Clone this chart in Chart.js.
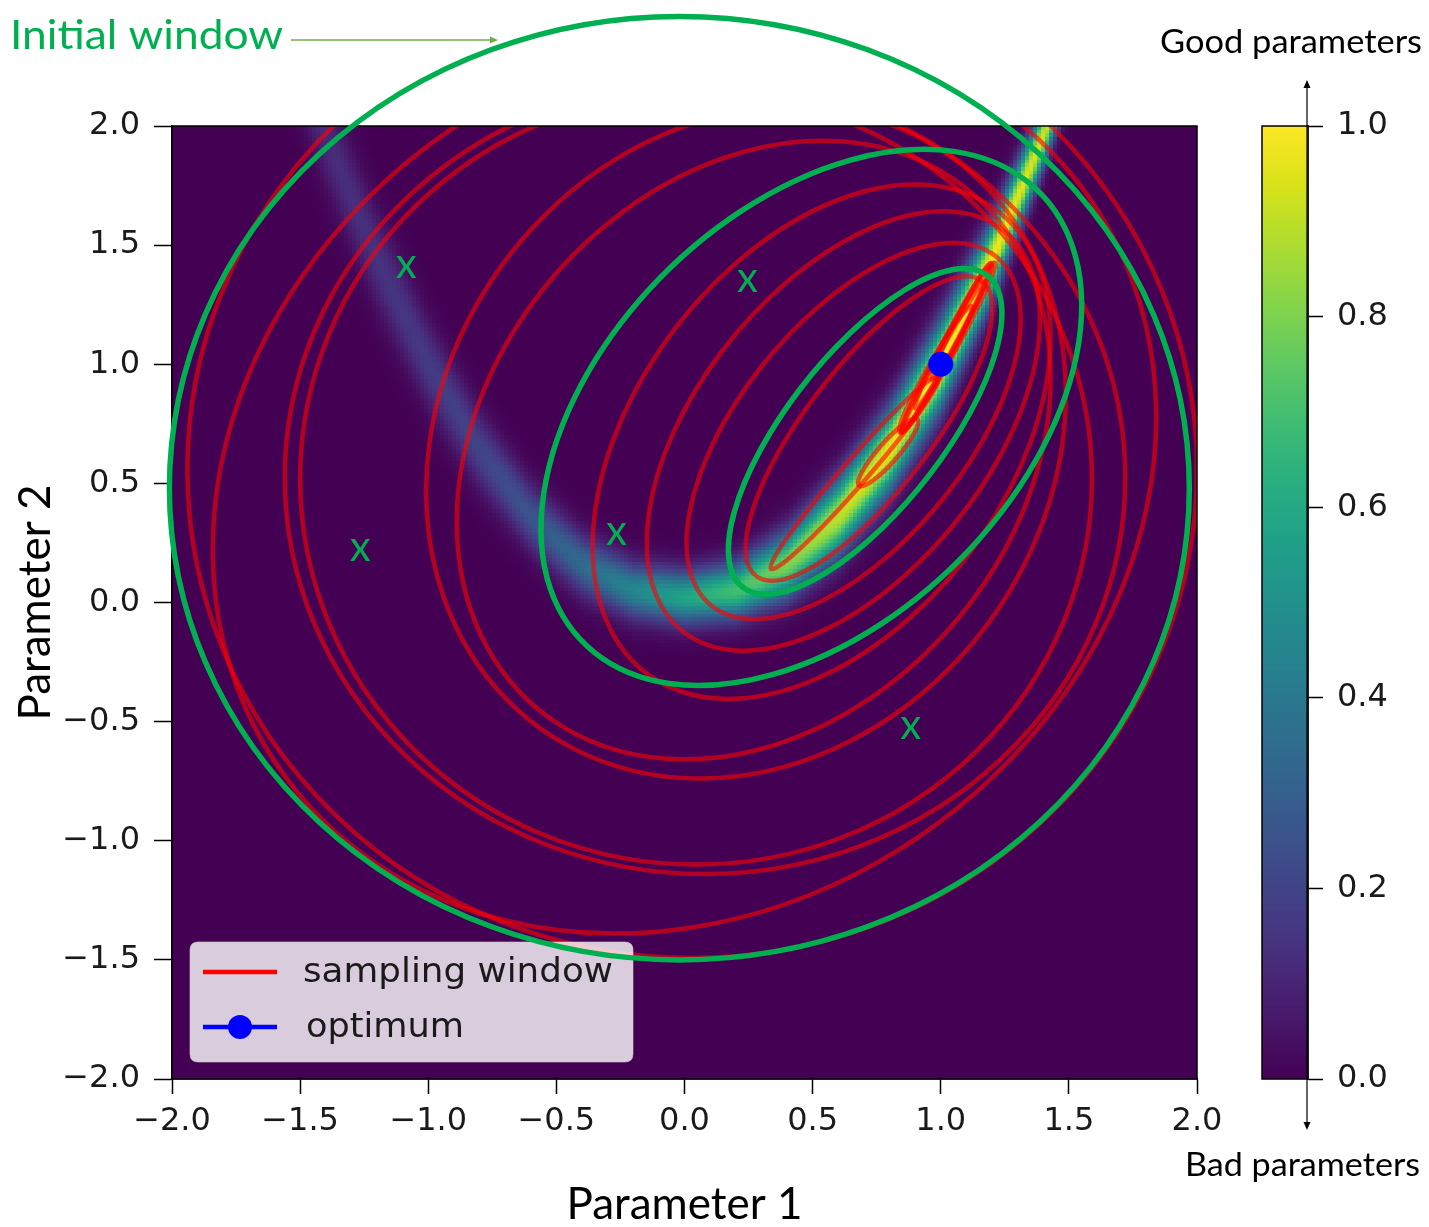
<!DOCTYPE html>
<html><head><meta charset="utf-8">
<script src="https://cdn.jsdelivr.net/npm/chart.js@4.4.1/dist/chart.umd.min.js"></script>
<style>
html,body{margin:0;padding:0;background:#fff;}
#wrap{position:relative;width:1429px;height:1227px;overflow:hidden;background:#fff;}
#main{position:absolute;left:0;top:0;}
#cbar{position:absolute;left:1140px;top:0;}
</style></head><body>
<div id="wrap"><canvas id="main" width="1429" height="1227"></canvas><canvas id="cbar" width="289" height="1227"></canvas></div>
<script>
// ---------- data ----------
const xTicks = [-2, -1.5, -1, -0.5, 0, 0.5, 1, 1.5, 2];
const yTicks = [-2, -1.5, -1, -0.5, 0, 0.5, 1, 1.5, 2];
const colorbarTicks = [0, 0.2, 0.4, 0.6, 0.8, 1.0];

// score ridge (the bright band): position, peak score and half-width per column
const ridgeX     = [-1.6, -1.4, -1.2, -1.0, -0.8, -0.6, -0.4, -0.2, 0.0, 0.2, 0.4, 0.6, 0.8, 1.0, 1.2, 1.4, 1.6];
const ridgeY     = [2.56, 1.96, 1.44, 1.00, 0.64, 0.36, 0.16, 0.05, 0.02, 0.05, 0.16, 0.36, 0.64, 1.00, 1.44, 1.96, 2.56];
const ridgePeak  = [0.10, 0.12, 0.14, 0.17, 0.20, 0.26, 0.34, 0.45, 0.58, 0.70, 0.80, 0.90, 0.97, 1.00, 0.98, 0.93, 0.85];
const ridgeWidth = [0.20, 0.20, 0.19, 0.17, 0.15, 0.13, 0.12, 0.11, 0.105, 0.11, 0.13, 0.15, 0.16, 0.17, 0.15, 0.12, 0.11];

// sampling windows (red ellipses): centre, semi-axes, rotation (deg)
const windowCx    = [0.03, 0.00, 0.08, 0.045, 0.24, 0.27, 0.535, 0.62, 0.66, 0.72, 0.665, 0.795, 1.03, 1.05, 0.98, 1.08, 1.01];
const windowCy    = [0.558, 0.50, 0.525, 0.52, 0.67, 0.64, 0.675, 0.72, 0.72, 0.73, 0.545, 0.63, 1.07, 1.12, 0.98, 1.18, 1.03];
const windowA     = [1.97, 2.00, 1.64, 1.545, 1.45, 1.38, 1.19, 1.05, 0.92, 0.76, 0.52, 0.18, 0.40, 0.34, 0.30, 0.27, 0.36];
const windowB     = [2.05, 1.72, 1.665, 1.62, 1.20, 1.06, 0.74, 0.58, 0.45, 0.25, 0.05, 0.04, 0.03, 0.025, 0.03, 0.02, 0.02];
const windowAngle = [0, 50, 0, 0, 65, 58, 57.5, 55, 54, 55, 51, 51, 63, 64, 62, 65, 63];

// highlighted windows (green): initial window and two later ones
const highlightCx    = [-0.02, 0.495, 0.705];
const highlightCy    = [0.48, 0.777, 0.718];
const highlightA     = [1.99, 1.30, 0.81];
const highlightB     = [1.98, 0.83, 0.31];
const highlightAngle = [0, 49.4, 54.5];

// sampled points (green x)
const sampleX = [-1.086, 0.246, -0.266, -1.266, 0.883];
const sampleY = [1.412, 1.353, 0.290, 0.223, -0.525];

// optimum
const optimumX = [1.0];
const optimumY = [1.0];

const legendLabels = ['sampling window', 'optimum'];

// ---------- styles ----------
const VIRIDIS = ['#440154','#48186a','#472d7b','#424086','#3b528b','#33638d','#2c728e','#26828e','#21918c','#1fa088','#28ae80','#3fbc73','#5ec962','#84d44b','#addc30','#d8e219','#fde725'];
const VIR_RGB = VIRIDIS.map(h => [parseInt(h.slice(1,3),16), parseInt(h.slice(3,5),16), parseInt(h.slice(5,7),16)]);
function viridis(v) {
  v = Math.max(0, Math.min(1, v));
  const f = v * (VIR_RGB.length - 1);
  const i = Math.min(VIR_RGB.length - 2, Math.floor(f));
  const t = f - i;
  const a = VIR_RGB[i], b = VIR_RGB[i + 1];
  return [a[0] + (b[0]-a[0])*t, a[1] + (b[1]-a[1])*t, a[2] + (b[2]-a[2])*t];
}
const GREEN = '#00b050';
const RED = 'rgba(255,0,0,0.6)';
const TICK_FONT = {family: 'DejaVu Sans', size: 32};
const fmt = v => (v < 0 ? '\u2212' : '') + Math.abs(v).toFixed(1);

function ridgeAt(x, arr) {
  if (x <= ridgeX[0]) return arr[0];
  for (let i = 0; i < ridgeX.length - 1; i++) {
    if (x <= ridgeX[i+1]) {
      const t = (x - ridgeX[i]) / (ridgeX[i+1] - ridgeX[i]);
      return arr[i] + (arr[i+1] - arr[i]) * t;
    }
  }
  return arr[arr.length - 1];
}

let heatCanvas = null;
function buildHeat(xs, ys) {
  const N = 256;
  const c = document.createElement('canvas');
  c.width = N; c.height = N;
  const g = c.getContext('2d');
  const img = g.createImageData(N, N);
  const x0 = xs.min, x1 = xs.max, y0 = ys.min, y1 = ys.max;
  for (let i = 0; i < N; i++) {
    const xc = x0 + (i + 0.5) * (x1 - x0) / N;
    const ry = ridgeAt(xc, ridgeY), rp = ridgeAt(xc, ridgePeak), rw = ridgeAt(xc, ridgeWidth);
    for (let j = 0; j < N; j++) {
      const yc = y1 - (j + 0.5) * (y1 - y0) / N;
      const d = (yc - ry) / rw;
      const v = rp * Math.exp(-d * d);
      const col = viridis(v);
      const k = (j * N + i) * 4;
      img.data[k] = col[0]; img.data[k+1] = col[1]; img.data[k+2] = col[2]; img.data[k+3] = 255;
    }
  }
  g.putImageData(img, 0, 0);
  return c;
}

function ellipsePath(ctx, xs, ys, cx, cy, a, b, angDeg) {
  const px0 = xs.getPixelForValue(0), py0 = ys.getPixelForValue(0);
  const sx = xs.getPixelForValue(1) - px0, sy = ys.getPixelForValue(1) - py0;
  ctx.save();
  ctx.translate(px0, py0);
  ctx.scale(sx, sy);
  ctx.beginPath();
  ctx.ellipse(cx, cy, a, b, angDeg * Math.PI / 180, 0, Math.PI * 2);
  ctx.restore();
}

function fitText(ctx, text, x, y, width, font, color, align) {
  ctx.save();
  ctx.font = font;
  ctx.fillStyle = color;
  ctx.textBaseline = 'middle';
  const w = ctx.measureText(text).width;
  const s = width / w;
  let left = x;
  if (align === 'center') left = x - width / 2;
  ctx.translate(left, y);
  ctx.scale(s, 1);
  ctx.textAlign = 'left';
  ctx.fillText(text, 0, 0);
  ctx.restore();
}

function arrowHead(ctx, x, y, dx, dy, len, half, color) {
  const n = Math.hypot(dx, dy); const ux = dx / n, uy = dy / n;
  ctx.save();
  ctx.fillStyle = color;
  ctx.beginPath();
  ctx.moveTo(x, y);
  ctx.lineTo(x - ux * len - uy * half, y - uy * len + ux * half);
  ctx.lineTo(x - ux * len + uy * half, y - uy * len - ux * half);
  ctx.closePath();
  ctx.fill();
  ctx.restore();
}

const heatPlugin = {
  id: 'heatAndWindows',
  beforeDatasetsDraw(chart) {
    const {ctx, chartArea: ca, scales: {x, y}} = chart;
    if (!heatCanvas) heatCanvas = buildHeat(x, y);
    ctx.save();
    ctx.beginPath();
    ctx.rect(ca.left, ca.top, ca.right - ca.left, ca.bottom - ca.top);
    ctx.clip();
    ctx.imageSmoothingEnabled = false;
    const L = x.getPixelForValue(x.min), R = x.getPixelForValue(x.max);
    const T = y.getPixelForValue(y.max), B = y.getPixelForValue(y.min);
    ctx.drawImage(heatCanvas, L, T, R - L, B - T);
    // red sampling windows
    ctx.strokeStyle = RED;
    ctx.lineWidth = 4.5;
    for (let i = 0; i < windowCx.length; i++) {
      ellipsePath(ctx, x, y, windowCx[i], windowCy[i], windowA[i], windowB[i], windowAngle[i]);
      ctx.stroke();
    }
    ctx.restore();
  },
  afterDatasetsDraw(chart) {
    const {ctx, chartArea: ca, scales: {x, y}} = chart;
    // frame
    ctx.save();
    ctx.strokeStyle = '#000';
    ctx.lineWidth = 1.5;
    ctx.strokeRect(ca.left, ca.top, ca.right - ca.left, ca.bottom - ca.top);
    ctx.restore();
    // legend
    ctx.save();
    const lx = 190, ly = 942, lw = 443, lh = 120, r = 8;
    ctx.beginPath();
    ctx.moveTo(lx + r, ly); ctx.lineTo(lx + lw - r, ly); ctx.quadraticCurveTo(lx + lw, ly, lx + lw, ly + r);
    ctx.lineTo(lx + lw, ly + lh - r); ctx.quadraticCurveTo(lx + lw, ly + lh, lx + lw - r, ly + lh);
    ctx.lineTo(lx + r, ly + lh); ctx.quadraticCurveTo(lx, ly + lh, lx, ly + lh - r);
    ctx.lineTo(lx, ly + r); ctx.quadraticCurveTo(lx, ly, lx + r, ly); ctx.closePath();
    ctx.fillStyle = 'rgba(255,255,255,0.8)';
    ctx.fill();
    ctx.strokeStyle = 'rgba(204,204,204,0.6)';
    ctx.lineWidth = 1;
    ctx.stroke();
    ctx.lineWidth = 4.5;
    ctx.strokeStyle = '#ff0000';
    ctx.beginPath(); ctx.moveTo(203, 972); ctx.lineTo(277, 972); ctx.stroke();
    ctx.strokeStyle = '#0000ff';
    ctx.beginPath(); ctx.moveTo(203, 1027); ctx.lineTo(277, 1027); ctx.stroke();
    ctx.fillStyle = '#0000ff';
    ctx.beginPath(); ctx.arc(240, 1027, 12, 0, Math.PI * 2); ctx.fill();
    ctx.restore();
    fitText(ctx, legendLabels[0], 303, 973, 310, '33px "DejaVu Sans"', '#1a1a1a', 'left');
    fitText(ctx, legendLabels[1], 306, 1028, 158, '33px "DejaVu Sans"', '#1a1a1a', 'left');
    // green highlighted windows
    ctx.save();
    ctx.strokeStyle = GREEN;
    ctx.lineWidth = 5.5;
    for (let i = 0; i < highlightCx.length; i++) {
      ellipsePath(ctx, x, y, highlightCx[i], highlightCy[i], highlightA[i], highlightB[i], highlightAngle[i]);
      ctx.stroke();
    }
    ctx.restore();
    // sampled points
    ctx.save();
    ctx.fillStyle = GREEN;
    ctx.font = '42px Lato';
    ctx.textAlign = 'center';
    ctx.textBaseline = 'middle';
    for (let i = 0; i < sampleX.length; i++) {
      ctx.fillText('x', x.getPixelForValue(sampleX[i]), y.getPixelForValue(sampleY[i]) - 2);
    }
    ctx.restore();
  },
  afterDraw(chart) {
    const ctx = chart.ctx;
    fitText(ctx, 'Initial window', 10, 36, 273, '41px Lato', GREEN, 'left');
    ctx.save();
    ctx.strokeStyle = '#70ad47';
    ctx.lineWidth = 1.3;
    ctx.beginPath(); ctx.moveTo(291, 40); ctx.lineTo(492, 40); ctx.stroke();
    arrowHead(ctx, 498, 40, 1, 0, 8, 3.5, '#70ad47');
    ctx.restore();
  }
};

Chart.defaults.font.family = 'DejaVu Sans';

new Chart(document.getElementById('main'), {
  type: 'scatter',
  data: {
    datasets: [{
      label: legendLabels[1],
      data: optimumX.map((v, i) => ({x: v, y: optimumY[i]})),
      pointRadius: 12.5, pointHoverRadius: 12.5,
      backgroundColor: '#0000ff', borderColor: '#0000ff', borderWidth: 0
    }]
  },
  options: {
    responsive: false, devicePixelRatio: 1, animation: false, events: [],
    layout: {padding: {left: 0, top: 126, right: 232, bottom: 0}},
    plugins: {legend: {display: false}, tooltip: {enabled: false}},
    scales: {
      x: {
        type: 'linear', min: -2, max: 2,
        afterBuildTicks: s => { s.ticks = xTicks.map(v => ({value: v})); },
        afterFit: s => { s.height = 148; },
        grid: {drawOnChartArea: false, drawTicks: true, tickLength: 15, tickWidth: 1.5, tickColor: '#000'},
        border: {display: true, color: '#000', width: 1.5},
        ticks: {font: TICK_FONT, color: '#1a1a1a', padding: 8, maxRotation: 0, autoSkip: false, callback: v => fmt(v)},
        title: {display: true, text: 'Parameter 1', color: '#000', font: {family: 'Lato', size: 44, lineHeight: 1}, padding: {top: 0, bottom: 0}}
      },
      y: {
        type: 'linear', min: -2, max: 2,
        afterBuildTicks: s => { s.ticks = yTicks.map(v => ({value: v})); },
        afterFit: s => { s.width = 172; },
        grid: {drawOnChartArea: false, drawTicks: true, tickLength: 18, tickWidth: 1.5, tickColor: '#000'},
        border: {display: true, color: '#000', width: 1.5},
        ticks: {font: TICK_FONT, color: '#1a1a1a', padding: 14, autoSkip: false, callback: v => fmt(v)},
        title: {display: true, text: 'Parameter 2', color: '#000', font: {family: 'Lato', size: 44, lineHeight: 1}, padding: {top: 14, bottom: 0}}
      }
    }
  },
  plugins: [heatPlugin]
});

const colorbarPlugin = {
  id: 'colorbar',
  beforeDatasetsDraw(chart) {
    const {ctx, chartArea: ca, scales: {y}} = chart;
    const y0 = y.getPixelForValue(0), y1 = y.getPixelForValue(1);
    const grad = ctx.createLinearGradient(0, y0, 0, y1);
    VIRIDIS.forEach((c, i) => grad.addColorStop(i / (VIRIDIS.length - 1), c));
    ctx.save();
    ctx.fillStyle = grad;
    ctx.fillRect(ca.left, y1, ca.right - ca.left, y0 - y1);
    ctx.strokeStyle = '#000';
    ctx.lineWidth = 1.5;
    ctx.strokeRect(ca.left, y1, ca.right - ca.left, y0 - y1);
    ctx.restore();
  },
  afterDraw(chart) {
    const {ctx, chartArea: ca} = chart;
    const ax = ca.right - 1;
    ctx.save();
    ctx.strokeStyle = '#000';
    ctx.lineWidth = 1.2;
    ctx.beginPath(); ctx.moveTo(ax, 1124); ctx.lineTo(ax, 86); ctx.stroke();
    arrowHead(ctx, ax, 80, 0, -1, 8, 3.5, '#000');
    arrowHead(ctx, ax, 1130, 0, 1, 8, 3.5, '#000');
    ctx.restore();
    fitText(ctx, 'Good parameters', 20, 43, 262, '32px Lato', '#000', 'left');
    fitText(ctx, 'Bad parameters', 45, 1166, 235, '32px Lato', '#000', 'left');
  }
};

new Chart(document.getElementById('cbar'), {
  type: 'scatter',
  data: {datasets: []},
  options: {
    responsive: false, devicePixelRatio: 1, animation: false, events: [],
    layout: {padding: {left: 122, top: 126, right: 0, bottom: 148}},
    plugins: {legend: {display: false}, tooltip: {enabled: false}},
    scales: {
      x: {display: false, min: 0, max: 1},
      y: {
        position: 'right', min: 0, max: 1,
        afterBuildTicks: s => { s.ticks = colorbarTicks.map(v => ({value: v})); },
        afterFit: s => { s.width = 121; },
        grid: {drawOnChartArea: false, drawTicks: true, tickLength: 15, tickWidth: 1.5, tickColor: '#000'},
        border: {display: true, color: '#000', width: 1.5},
        ticks: {font: TICK_FONT, color: '#1a1a1a', padding: 14, callback: v => v.toFixed(1)}
      }
    }
  },
  plugins: [colorbarPlugin]
});
</script>
</body></html>
